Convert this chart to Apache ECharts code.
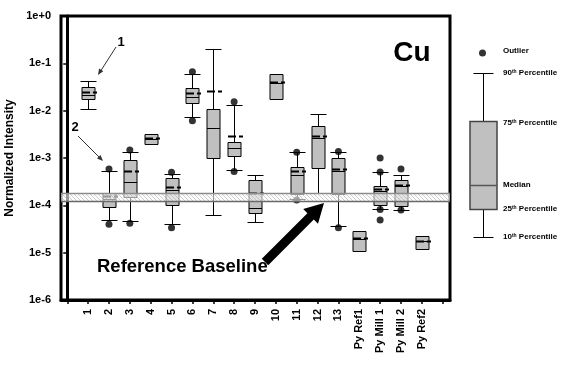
<!DOCTYPE html>
<html>
<head>
<meta charset="utf-8">
<script src="https://cdn.jsdelivr.net/npm/echarts@6/dist/echarts.min.js"></script>
<style>
html,body{margin:0;padding:0;background:#fff;}
#chart{width:574px;height:371px;}
</style>
</head>
<body>
<div id="chart"></div>
<script>
// ---- data ----
const categories = ['1','2','3','4','5','6','7','8','9','10','11','12','13','Py Ref1','Py Mill 1','Py Mill 2','Py Ref2'];
const whiskerLow  = [0.0107, 4.8e-5, 4.6e-5, null, 4.03e-5, 0.00724, 6.15e-5, 5.5e-4, 4.4e-5, null, 1.39e-4, 1.79e-4, 3.66e-5, null, 8.2e-5, 7.96e-5, null];
const q1          = [0.0174, 9.4e-5, 1.5e-4, 1.95e-3, 1.0e-4, 0.0143, 9.85e-4, 1.09e-3, 6.8e-5, 0.0174, 1.73e-4, 6.05e-4, 1.71e-4, 1.1e-5, 1.0e-4, 9.9e-5, 1.19e-5];
const median      = [0.0211, 1.36e-4, 3.06e-4, 2.58e-3, 2.16e-4, 0.0194, 4.24e-3, 1.6e-3, 8.9e-5, 0.039, 4.48e-4, 2.64e-3, 5.23e-4, 1.97e-5, 1.96e-4, 2.56e-4, 1.76e-5];
const q3          = [0.0312, 1.78e-4, 8.9e-4, 3.16e-3, 3.72e-4, 0.0297, 0.0107, 2.14e-3, 3.38e-4, 0.0586, 6.45e-4, 4.67e-3, 9.85e-4, 2.83e-5, 2.52e-4, 3.51e-4, 2.21e-5];
const whiskerHigh = [0.043, 5.3e-4, 1.34e-3, null, 4.7e-4, 0.0586, 0.198, 0.013, 4.3e-4, null, 1.32e-3, 8.4e-3, 1.34e-3, null, 5.06e-4, 4.3e-4, null];
const mean        = [0.0247, 1.57e-4, 5.3e-4, 2.62e-3, 2.4e-4, 0.024, 0.026, 2.96e-3, 1.84e-4, 0.0405, 5.3e-4, 2.92e-3, 5.85e-4, 2.0e-5, 2.23e-4, 2.71e-4, 1.8e-5];
const outliers    = [[], [5.85e-4, 4.0e-5], [1.47e-3, 4.2e-5], [], [4.99e-4, 3.37e-5], [0.0666, 0.00614], [], [0.01546, 5.2e-4], [], [], [1.32e-3, 1.29e-4], [], [1.38e-3, 3.37e-5], [], [1.0e-3, 5.06e-4, 8.2e-5, 4.9e-5], [5.85e-4, 7.96e-5], []];
const baseline    = [1.26e-4, 1.82e-4];
const yTickExponents = [0, -1, -2, -3, -4, -5, -6];

// legend key (schematic box, arbitrary linear units)
const legendBox    = [3.3, 31, 55, 119.3, 167.3];   // 10th, 25th, median, 75th, 90th
const legendOutlier = 187;
const legendLabels = [['Outlier', ''], ['90', 'th Percentile'], ['75', 'th Percentile'], ['Median', ''], ['25', 'th Percentile'], ['10', 'th Percentile']];
const legendLabelY = [189.3, 167.3, 117.3, 55.7, 31.3, 3.3];

const X_MIN = -0.3, X_MAX = 18.35;
const FONT = 'Arial, "Liberation Sans", Helvetica, sans-serif';

const boxData = categories.map((c, i) => [i + 1,
  whiskerLow[i] == null ? '-' : whiskerLow[i], q1[i], median[i], q3[i],
  whiskerHigh[i] == null ? '-' : whiskerHigh[i], mean[i]]);
const outlierData = [];
outliers.forEach((arr, i) => arr.forEach(v => outlierData.push([i + 1, v])));

function makeBoxRenderer(opt) {
  return function (params, api) {
    const x = api.value(0);
    const wl = api.value(1), b1 = api.value(2), md = api.value(3), b3 = api.value(4), wh = api.value(5), mn = api.value(6);
    const step = api.coord([x + 1, b1])[0] - api.coord([x, b1])[0];
    const bw = Math.round(step * opt.box), cw = Math.round(step * opt.cap);
    const cx = Math.round(api.coord([x, b1])[0]) + 0.5;
    const Y = v => Math.round(api.coord([x, v])[1]) + 0.5;
    const ls = { stroke: opt.stroke, lineWidth: opt.lw };
    const ch = [];
    if (isFinite(wh)) {
      ch.push({ type: 'line', shape: { x1: cx, y1: Y(b3), x2: cx, y2: Y(wh) }, style: ls });
      ch.push({ type: 'line', shape: { x1: cx - cw / 2, y1: Y(wh), x2: cx + cw / 2, y2: Y(wh) }, style: ls });
    }
    if (isFinite(wl)) {
      ch.push({ type: 'line', shape: { x1: cx, y1: Y(b1), x2: cx, y2: Y(wl) }, style: ls });
      ch.push({ type: 'line', shape: { x1: cx - cw / 2, y1: Y(wl), x2: cx + cw / 2, y2: Y(wl) }, style: ls });
    }
    ch.push({ type: 'rect', shape: { x: cx - bw / 2, y: Y(b3), width: bw, height: Y(b1) - Y(b3) },
      style: { fill: opt.fill, stroke: opt.boxStroke, lineWidth: opt.boxLw } });
    ch.push({ type: 'line', shape: { x1: cx - bw / 2, y1: Y(md), x2: cx + bw / 2, y2: Y(md) },
      style: { stroke: opt.medStroke, lineWidth: opt.boxLw } });
    if (isFinite(mn)) {
      ch.push({ type: 'line', shape: { x1: cx - bw / 2, y1: Y(mn), x2: cx + bw / 2 + 2, y2: Y(mn) },
        style: { stroke: '#000', lineWidth: 2, lineDash: [8, 3] } });
    }
    return { type: 'group', children: ch };
  };
}

// hatch pattern for baseline band
const pc = document.createElement('canvas');
pc.width = 4; pc.height = 4;
const pctx = pc.getContext('2d');
pctx.fillStyle = 'rgba(250,250,250,0.6)';
pctx.fillRect(0, 0, 4, 4);
pctx.fillStyle = 'rgba(160,160,160,0.5)';
for (let i = 0; i < 4; i++) pctx.fillRect(i, i, 1, 1);

const chart = echarts.init(document.getElementById('chart'), null, { renderer: 'canvas' });
const option = {
  animation: false,
  backgroundColor: '#fff',
  grid: [
    { left: 61, top: 16, width: 389, height: 284, show: true, borderColor: '#000', borderWidth: 3, outerBoundsMode: 'none' },
    { left: 469, top: 40, width: 27, height: 200, show: false, outerBoundsMode: 'none' }
  ],
  xAxis: [
    { type: 'value', gridIndex: 0, min: X_MIN, max: X_MAX,
      axisLine: { show: true, lineStyle: { color: '#000', width: 3 } },
      axisTick: { show: true, length: 4, customValues: [0,1,2,3,4,5,6,7,8,9,10,11,12,13,14,15,16,17,18], lineStyle: { color: '#000', width: 1.5 } },
      axisLabel: { customValues: categories.map((c, i) => i + 1), rotate: 90, margin: 9,
        formatter: v => categories[Math.round(v) - 1] || '',
        color: '#000', fontFamily: FONT, fontWeight: 'bold', fontSize: 11 },
      splitLine: { show: false } },
    { type: 'value', gridIndex: 1, min: 0, max: 1, show: false }
  ],
  yAxis: [
    { type: 'log', gridIndex: 0, logBase: 10, min: 1e-6, max: 1, splitNumber: 6,
      name: 'Normalized Intensity', nameLocation: 'middle', nameGap: 45,
      nameTextStyle: { color: '#000', fontFamily: FONT, fontWeight: 'bold', fontSize: 12 },
      axisLine: { show: true, lineStyle: { color: '#000', width: 3 } },
      axisTick: { show: true, length: 4, lineStyle: { color: '#000', width: 1.5 } },
      axisLabel: { margin: 10, color: '#000', fontFamily: FONT, fontWeight: 'bold', fontSize: 11,
        formatter: v => { const e = Math.round(Math.log10(v)); return yTickExponents.indexOf(e) < 0 ? '' : '1e' + (e >= 0 ? '+' + e : e); } },
      splitLine: { show: false }, minorTick: { show: false } },
    { type: 'value', gridIndex: 1, min: 0, max: 200, show: false }
  ],
  series: [
    { type: 'custom', name: 'boxes', xAxisIndex: 0, yAxisIndex: 0, z: 2,
      encode: { x: 0, y: [1, 2, 3, 4, 5, 6] }, data: boxData,
      renderItem: makeBoxRenderer({ box: 0.62, cap: 0.77, fill: '#c0c0c0', stroke: '#000', lw: 1, boxStroke: '#000', boxLw: 1, medStroke: '#000' }) },
    { type: 'scatter', name: 'outliers', xAxisIndex: 0, yAxisIndex: 0, z: 3, symbol: 'circle', symbolSize: 7,
      itemStyle: { color: '#000' }, data: outlierData },
    { type: 'custom', name: 'baseline', xAxisIndex: 0, yAxisIndex: 0, z: 4,
      encode: { x: [0, 2], y: [1, 3] }, data: [[X_MIN, baseline[0], X_MAX, baseline[1]]],
      renderItem: (params, api) => {
        const p1 = api.coord([api.value(0), api.value(3)]);
        const p2 = api.coord([api.value(2), api.value(1)]);
        const yt = Math.round(p1[1]) + 0.5, yb = Math.round(p2[1]) + 0.5;
        return { type: 'group', children: [
          { type: 'rect', shape: { x: p1[0], y: yt, width: p2[0] - p1[0], height: yb - yt }, style: { fill: { image: pc, repeat: 'repeat' } } },
          { type: 'line', shape: { x1: p1[0], y1: yt, x2: p2[0], y2: yt }, style: { stroke: '#8c8c8c', lineWidth: 1.5 } },
          { type: 'line', shape: { x1: p1[0], y1: yb, x2: p2[0], y2: yb }, style: { stroke: '#6a6a6a', lineWidth: 1.5 } }
        ] };
      } },
    // legend key
    { type: 'custom', name: 'legendBox', xAxisIndex: 1, yAxisIndex: 1, z: 2,
      encode: { x: 0, y: [1, 2, 3, 4, 5] }, data: [[0.5].concat(legendBox)],
      renderItem: makeBoxRenderer({ box: 1.0, cap: 0.74, fill: '#c0c0c0', stroke: '#000', lw: 1, boxStroke: '#444', boxLw: 1.5, medStroke: '#555' }) },
    { type: 'scatter', name: 'legendOutlier', xAxisIndex: 1, yAxisIndex: 1, symbolSize: 7,
      itemStyle: { color: '#000' }, data: [[0.5, legendOutlier]] },
    { type: 'custom', name: 'legendText', xAxisIndex: 1, yAxisIndex: 1,
      encode: { x: 0, y: 1 }, data: legendLabelY.map(y => [1, y]),
      renderItem: (params, api) => {
        const p = api.coord([api.value(0), api.value(1)]);
        const lab = legendLabels[params.dataIndex];
        const txt = lab[1] ? '{a|' + lab[0] + '}{s|' + lab[1].slice(0, 2) + '}{a|' + lab[1].slice(2) + '}' : '{a|' + lab[0] + '}';
        return { type: 'text', x: p[0] + 7, y: p[1],
          style: { text: txt, textVerticalAlign: 'middle', verticalAlign: 'middle', textAlign: 'left',
            rich: { a: { fontFamily: FONT, fontWeight: 'bold', fontSize: 8, fill: '#000', color: '#000' },
                    s: { fontFamily: FONT, fontWeight: 'bold', fontSize: 5, fill: '#000', color: '#000', padding: [0, 0, 3, 0] } } } };
      } }
  ],
  graphic: [
    { type: 'text', x: 412, y: 53, style: { text: 'Cu', font: 'bold 28px ' + FONT, fill: '#000', textAlign: 'center', textVerticalAlign: 'middle', verticalAlign: 'middle' } },
    { type: 'text', x: 121, y: 42, style: { text: '1', font: 'bold 13px ' + FONT, fill: '#000', textAlign: 'center', textVerticalAlign: 'middle', verticalAlign: 'middle' } },
    { type: 'text', x: 75, y: 127, style: { text: '2', font: 'bold 13px ' + FONT, fill: '#000', textAlign: 'center', textVerticalAlign: 'middle', verticalAlign: 'middle' } },
    { type: 'line', shape: { x1: 116, y1: 47, x2: 100, y2: 72 }, style: { stroke: '#333', lineWidth: 1 } },
    { type: 'polygon', shape: { points: [[98, 75], [103.3, 71.3], [99.1, 68.6]] }, style: { fill: '#333' } },
    { type: 'line', shape: { x1: 78, y1: 136, x2: 100, y2: 158 }, style: { stroke: '#333', lineWidth: 1 } },
    { type: 'polygon', shape: { points: [[103, 161], [100.5, 155], [97, 158.6]] }, style: { fill: '#333' } },
    { type: 'text', x: 97, y: 267, style: { text: 'Reference Baseline', font: 'bold 18.5px ' + FONT, fill: '#000', textAlign: 'left', textVerticalAlign: 'middle', verticalAlign: 'middle' } },
    { type: 'polygon', shape: { points: [[324, 203], [303.2, 209], [307.4, 213.2], [261.8, 258.8], [268.2, 265.2], [313.8, 219.6], [318, 223.8]] }, style: { fill: '#000' } }
  ]
};
chart.setOption(option);
</script>
</body>
</html>
